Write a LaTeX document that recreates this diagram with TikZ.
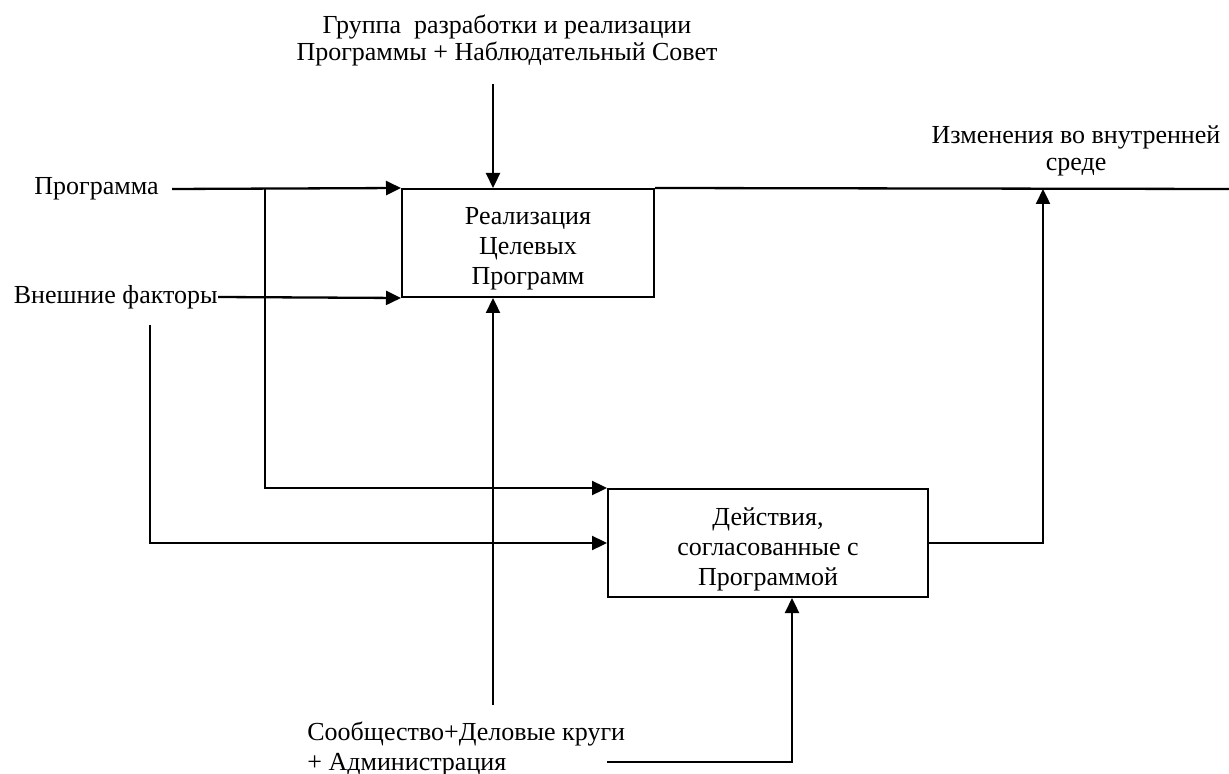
\documentclass[tikz,border=0pt]{standalone}
\usepackage{fontspec}
\setmainfont{Liberation Serif}
\usepackage{tikz}
\usetikzlibrary{positioning}
\usetikzlibrary{arrows.meta}
\tikzset{
  arrow_flow/.style={-{Triangle[length=7.5pt, width=7pt]}, line width=1.15pt, color=black},
  arrow_plain/.style={-, line width=1.15pt, color=black},
  func_box/.style={rectangle, draw, line width=1pt, minimum height=54pt, inner sep=0},
  box_text/.style={align=center, inner sep=0, font=\fontsize{13pt}{15pt}\selectfont},
  side_text/.style={inner sep=0, font=\fontsize{13pt}{15pt}\selectfont}}

\begin{document}
\begin{tikzpicture}[x=0.5pt, y=-0.5pt]
\useasboundingbox (0,0) rectangle (1229,774);

%% boxes
\node[func_box, minimum width=126pt] at (528,243) (r1) {};
\node[func_box, minimum width=160pt] at (768,543) (r2) {};
\node[box_text] at (528,249) (r1t) {Реализация\\Целевых\\Программ};
\node[box_text] at (768,549) (r2t) {Действия,\\согласованные с\\Программой};

%% labels
\node[side_text, inner xsep=6.5pt, anchor=east] at (172,189) (prog) {Программа};
\node[side_text, anchor=east] at (218,297) (ext) {Внешние факторы};
\node[side_text, align=center, font=\fontsize{13pt}{13.5pt}\selectfont] at (507,40) (grp)
  {Группа\ \ разработки и реализации\\Программы + Наблюдательный Совет};
\node[side_text, align=center, font=\fontsize{13pt}{13.5pt}\selectfont] at (1076,151) (chg)
  {Изменения во внутренней\\среде};
\node[side_text, align=left, anchor=west] at (307,749) (soc)
  {Сообщество+Деловые круги\\+ Администрация};

%% free ends
\coordinate (j1) at (265,189);
\coordinate (e1) at (150,325);
\coordinate (t1) at (493,84);
\coordinate (b1) at (493,705);
\coordinate (o1) at (1229,189);
\coordinate (o2) at (1043,189);
\coordinate (s1) at (607,762);
\coordinate (s2) at (792,0);

%% connectors
\draw[arrow_flow] (prog.east) -- (r1.north west);
\draw[arrow_flow] (ext.east) -- (r1.south west);
\draw[arrow_flow] (j1) |- (r2.north west);
\draw[arrow_flow] (e1) |- (r2.west);
\draw[arrow_flow] (t1) -- (t1 |- r1.north);
\draw[arrow_flow] (b1) -- (b1 |- r1.south);
\draw[arrow_plain] (r1.north east) -- (o1);
\draw[arrow_flow] (r2.east) -| (o2);
\draw[arrow_flow] (s1) -| (s2 |- r2.south);

\end{tikzpicture}
\end{document}
